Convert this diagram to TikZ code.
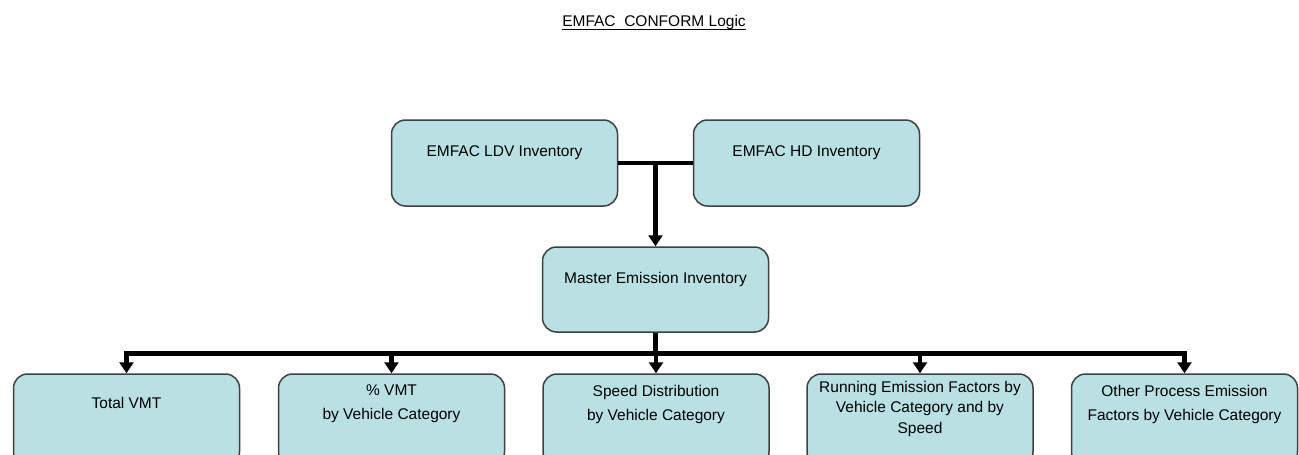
\documentclass[tikz,border=0pt]{standalone}
\usepackage{fontspec}
\setmainfont{Liberation Sans}
\usetikzlibrary{arrows.meta}
\definecolor{boxfill}{RGB}{185,224,227}
\definecolor{boxline}{RGB}{64,64,64}
\begin{document}
\begin{tikzpicture}[x=1pt,y=-1pt,
  box/.style={draw=boxline, line width=1.5pt, fill=boxfill, rounded corners=14pt,
    minimum width=226pt, minimum height=86pt, inner sep=0pt},
  lbl/.style={font=\fontsize{15.5}{24}\selectfont, align=center, inner sep=0pt},
  conn/.style={line width=4.5pt, draw=black},
  arr/.style={conn, -{Triangle[width=14pt,length=11pt]}}]
\useasboundingbox (0,0) rectangle (1299,455);
\clip (0,0) rectangle (1299,455);

% title
\node[anchor=base, inner sep=0pt, font=\fontsize{15.5}{18}\selectfont] (title) at (654,27) {EMFAC\ \ CONFORM Logic};
\draw[line width=1pt] ([yshift=-2.5pt]title.base west) -- ([yshift=-2.5pt]title.base east);

% top boxes
\node[box] (ldv) at (504.5,163) {};
\node[lbl] (ldvt) at (504.5,153) {EMFAC LDV Inventory};
\node[box] (hd) at (806.5,163) {};
\node[lbl] (hdt) at (806.5,153) {EMFAC HD Inventory};

\node[box, minimum height=85pt] (master) at (655.5,289.5) {};
\node[lbl] (mastert) at (655.5,279) {Master Emission Inventory};

% bottom boxes
\node[box, minimum height=92pt] (b1) at (126.5,420) {};
\node[lbl] (b1t) at (126.5,403) {Total VMT};
\node[box, minimum height=92pt] (b2) at (391.5,420) {};
\node[lbl] (b2t) at (391.5,404) {\% VMT\\by Vehicle Category};
\node[box, minimum height=92pt] (b3) at (656,420) {};
\node[lbl] (b3t) at (656,404) {Speed Distribution\\by Vehicle Category};
\node[box, minimum height=92pt] (b4) at (920,420) {};
\node[lbl, font=\fontsize{15.5}{20.5}\selectfont] (b4t) at (920,408.5) {Running Emission Factors by\\Vehicle Category and by\\Speed};
\node[box, minimum height=92pt] (b5) at (1184.5,420) {};
\node[lbl] (b5t) at (1184.5,404) {Other Process Emission\\Factors by Vehicle Category};

% connectors top
\coordinate (j) at (655.5,163);
\draw[conn] (ldv.east) -- (hd.west);
\draw[arr] (j) -- (master.north);

% bus
\coordinate (bus) at (655.5,353.5);
\coordinate (busL) at (126.5,353.5);
\coordinate (busR) at (1184.5,353.5);
\draw[conn] (master.south) -- (bus);
\draw[conn, line cap=rect] (busL) -- (busR);
\draw[arr] (busL) -- (b1.north);
\draw[arr] (b2.north |- bus) -- (b2.north);
\draw[arr] (b3.north |- bus) -- (b3.north);
\draw[arr] (b4.north |- bus) -- (b4.north);
\draw[arr] (busR) -- (b5.north);
\end{tikzpicture}
\end{document}
